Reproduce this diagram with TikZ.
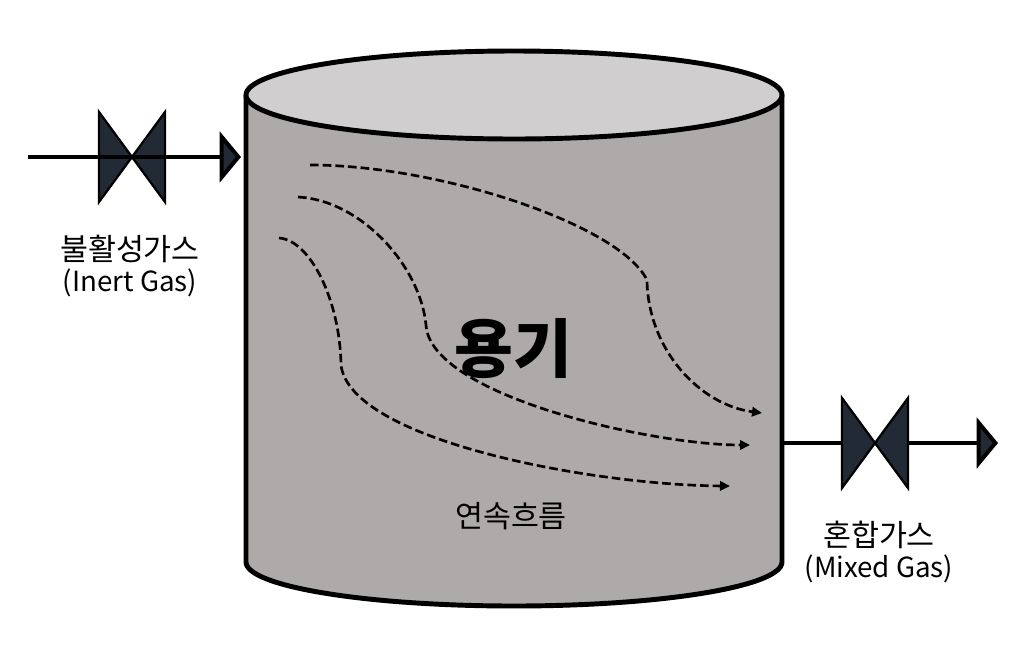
\documentclass[tikz,border=0pt]{standalone}
\usepackage{fontspec}
\setmainfont{Noto Sans CJK KR}
\usepackage{xcolor}
\usetikzlibrary{arrows.meta}
\definecolor{vessel}{HTML}{AEAAAA}
\definecolor{lid}{HTML}{D0CECE}
\definecolor{valve}{HTML}{222A35}
\newcommand{\hangulfont}{\fontsize{22.8pt}{27pt}\selectfont}
\newcommand{\latinfont}{\fontsize{20.8pt}{27pt}\selectfont}
\tikzset{
  wall/.style={line width=3.7pt, draw=black},
  pipe/.style={line width=3.7pt, draw=black, -{Triangle[length=16pt, width=38pt, fill=valve, line width=3pt]}},
  flow/.style={line width=2pt, dash pattern=on 6.5pt off 3pt, -{Stealth[length=7.5pt, width=7pt, inset=0pt]}},
  gaslabel/.style={align=center},
  pics/gatevalve/.style={code={
    \draw[fill=valve, line width=1.7pt, line join=miter] (-33,-45) -- (33,45) -- (33,-45) -- (-33,45) -- cycle;
  }}
}

\begin{document}
\begin{tikzpicture}[x=0.75pt, y=-0.75pt]
    \useasboundingbox (0,0) rectangle (1021,647);
    % vessel
    \draw[wall, fill=vessel] (246,95) -- (246,562) arc[start angle=180, end angle=0, x radius=268, y radius=44] -- (782,95);
    \draw[wall, fill=lid] (514,95) ellipse[x radius=268, y radius=44];
    \node (vesselname) at (513,349) {\fontsize{48pt}{50pt}\selectfont\bfseries 용기};
    \node[gaslabel] (flowname) at (511,516) {\hangulfont 연속흐름};
    % streamlines
    \draw[flow] (310,165) .. controls (440,165) and (620,225) .. (647,280) .. controls (648,350) and (700,405) .. (762,413);
    \draw[flow] (298,197) .. controls (360,200) and (420,265) .. (426,325) .. controls (430,395) and (650,445) .. (750,445);
    \draw[flow] (279,238) .. controls (310,240) and (340,300) .. (341,365) .. controls (350,440) and (590,485) .. (730,486);
    % inlet
    \coordinate (inletstart) at (28,157);
    \coordinate (inletend) at (241,157);
    \pic at (132,157) {gatevalve};
    \draw[pipe] (inletstart) -- (inletend);
    \node[gaslabel] (inertname) at (130,266) {{\hangulfont 불활성가스}\\[3.5pt]{\latinfont (Inert Gas)}};
    % outlet
    \coordinate (outletstart) at (784,443);
    \coordinate (outletend) at (998,443);
    \draw[pipe] (outletstart) -- (outletend);
    \pic at (875,443) {gatevalve};
    \node[gaslabel] (mixedname) at (879,552) {{\hangulfont 혼합가스}\\[3.5pt]{\latinfont (Mixed Gas)}};
\end{tikzpicture}
\end{document}
